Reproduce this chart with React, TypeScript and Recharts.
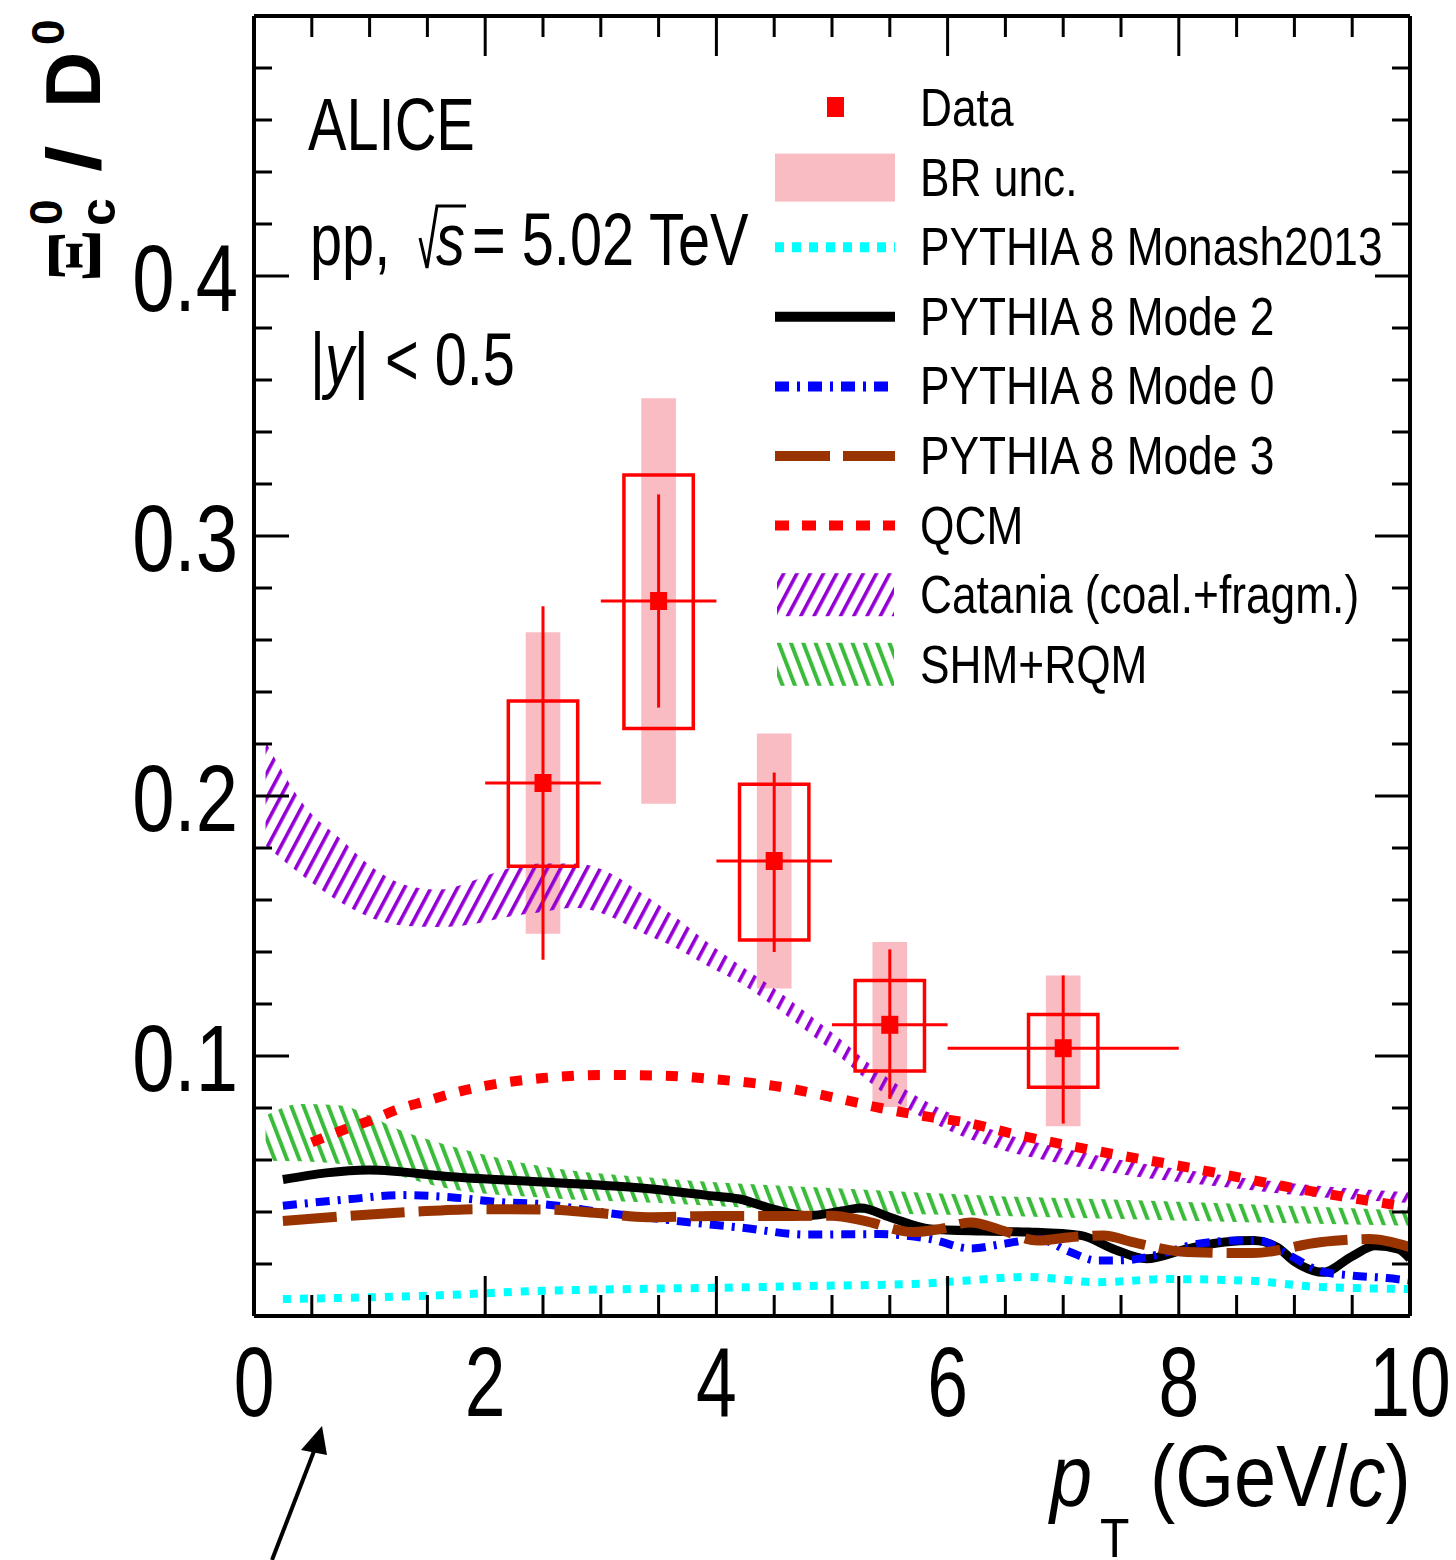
import React from 'react';
import {
  ComposedChart,
  XAxis,
  YAxis,
  Line,
  Area,
  Scatter,
  ErrorBar,
  ReferenceArea,
} from 'recharts';

const WIDTH = 1456;
const HEIGHT = 1560;
const SANS = "'Liberation Sans', Arial, Helvetica, sans-serif";
const SERIF = "'Liberation Serif', 'Times New Roman', serif";

const RED = '#ff0000';
const PINK = '#f9bcc3';
const CYAN = '#00ffff';
const BLUE = '#0000ff';
const BROWN = '#993300';
const VIOLET = '#9400d3';
const GREEN = '#3cba3c';

// measured Xi_c0 / D0 points (pT in GeV/c)
const ptCentre = [2.5, 3.5, 4.5, 5.5, 7];
const ptHalfWidth = [0.5, 0.5, 0.5, 0.5, 1];
const ratio = [0.205, 0.275, 0.175, 0.112, 0.103];
const statLow = [0.137, 0.234, 0.14, 0.0835, 0.074];
const statHigh = [0.273, 0.316, 0.209, 0.141, 0.131];
const systLow = [0.173, 0.226, 0.1446, 0.0942, 0.088];
const systHigh = [0.2365, 0.3235, 0.2045, 0.129, 0.116];
const brLow = [0.147, 0.197, 0.126, 0.0804, 0.073];
const brHigh = [0.263, 0.353, 0.224, 0.1438, 0.131];
const SYST_HALF = 0.3;
const BR_HALF = 0.15;

// PYTHIA 8 Monash2013
const monashX = [0.25, 1, 1.5, 2.5, 3.3, 4.2, 5, 5.7, 6.15, 6.7, 7.3, 7.9, 8.6, 9.2, 10];
const monashY = [0.0065, 0.0072, 0.0078, 0.0097, 0.0104, 0.011, 0.0117, 0.0123, 0.0136, 0.015, 0.013, 0.0142, 0.0136, 0.0112, 0.0104];

// PYTHIA 8 Mode 2
const mode2X = [0.25, 1, 1.7, 2.5, 3.35, 3.9, 4.2, 4.5, 4.8, 5.1, 5.25, 5.5, 5.85, 6.3, 6.7, 7.15, 7.45, 7.72, 8.07, 8.4, 8.65, 8.85, 9.0, 9.25, 9.5, 9.7, 9.9, 10];
const mode2Y = [0.0525, 0.0562, 0.0536, 0.0515, 0.0492, 0.0465, 0.045, 0.041, 0.0386, 0.0405, 0.0415, 0.038, 0.0335, 0.0327, 0.0323, 0.031, 0.0255, 0.022, 0.0258, 0.0285, 0.029, 0.0265, 0.021, 0.0168, 0.023, 0.027, 0.0257, 0.022];

// PYTHIA 8 Mode 0
const mode0X = [0.25, 0.84, 1.27, 1.7, 2.13, 2.5, 3.06, 3.63, 4.21, 4.79, 5.4, 5.85, 6.2, 6.48, 6.78, 7.06, 7.3, 7.55, 7.78, 8.16, 8.5, 8.7, 8.94, 9.22, 9.51, 9.8, 10];
const mode0Y = [0.0424, 0.045, 0.0465, 0.0457, 0.0438, 0.043, 0.0396, 0.0367, 0.034, 0.0313, 0.0315, 0.0296, 0.026, 0.0277, 0.0296, 0.0246, 0.0213, 0.0215, 0.0232, 0.0277, 0.029, 0.029, 0.0238, 0.0174, 0.0155, 0.0146, 0.0136];

// PYTHIA 8 Mode 3
const mode3X = [0.25, 0.84, 1.42, 2.0, 2.5, 3.0, 3.4, 4.0, 4.64, 5.0, 5.27, 5.7, 5.94, 6.2, 6.48, 6.78, 7.06, 7.35, 7.6, 8.07, 8.64, 9.22, 9.65, 10];
const mode3Y = [0.0365, 0.0386, 0.0402, 0.0411, 0.041, 0.0395, 0.038, 0.0385, 0.0385, 0.0386, 0.0367, 0.0323, 0.0335, 0.036, 0.0328, 0.029, 0.0303, 0.031, 0.0284, 0.0246, 0.0242, 0.0284, 0.0296, 0.0265];

// QCM
const qcmX = [0.5, 0.8, 1.0, 1.25, 1.5, 1.7, 2.0, 2.5, 3.0, 3.5, 4.0, 4.5, 5.0, 5.42, 5.85, 6.14, 6.57, 7.0, 7.5, 8.0, 8.44, 8.9, 9.37, 9.83, 10];
const qcmY = [0.0668, 0.072, 0.0751, 0.0796, 0.0828, 0.0854, 0.0885, 0.0915, 0.0927, 0.0925, 0.091, 0.0885, 0.0842, 0.08, 0.0765, 0.0746, 0.07, 0.066, 0.0617, 0.0578, 0.054, 0.05, 0.0463, 0.043, 0.0418];

// Catania (coal.+fragm.) band
const cataniaX = [0.1, 0.46, 0.75, 1.04, 1.33, 1.61, 1.9, 2.19, 2.48, 2.77, 3.06, 3.34, 3.63, 3.92, 4.21, 4.5, 5.0, 5.5, 6.0, 6.5, 7.0, 7.5, 8.0, 8.5, 9.0, 9.5, 10];
const cataniaHigh = [0.221, 0.195, 0.1835, 0.172, 0.1655, 0.164, 0.1675, 0.172, 0.174, 0.174, 0.1708, 0.163, 0.154, 0.1438, 0.1347, 0.126, 0.109, 0.091, 0.0785, 0.07, 0.0645, 0.06, 0.0565, 0.0535, 0.051, 0.049, 0.0475];
const cataniaLow = [0.181, 0.168, 0.159, 0.1527, 0.15, 0.1496, 0.1508, 0.1535, 0.1553, 0.157, 0.154, 0.1477, 0.142, 0.1347, 0.128, 0.119, 0.102, 0.084, 0.0715, 0.0635, 0.0585, 0.0545, 0.0515, 0.049, 0.0465, 0.0448, 0.0435];

// SHM+RQM band
const shmX = [0.1, 0.4, 0.75, 1.0, 1.2, 1.7, 2.5, 3.5, 5.0, 6.5, 7.5, 8.5, 10];
const shmHigh = [0.077, 0.0815, 0.081, 0.077, 0.0727, 0.0654, 0.0575, 0.053, 0.0492, 0.046, 0.0447, 0.0432, 0.0405];
const shmLow = [0.0597, 0.0595, 0.0585, 0.057, 0.0546, 0.0488, 0.0455, 0.0435, 0.04, 0.0385, 0.0373, 0.0362, 0.0347];

// axis ticks
const xTicks = [0, 0.5, 1, 1.5, 2, 2.5, 3, 3.5, 4, 4.5, 5, 5.5, 6, 6.5, 7, 7.5, 8, 8.5, 9, 9.5, 10];
const xMajor = [0, 2, 4, 6, 8, 10];
const yTicks = [0, 0.02, 0.04, 0.06, 0.08, 0.1, 0.12, 0.14, 0.16, 0.18, 0.2, 0.22, 0.24, 0.26, 0.28, 0.3, 0.32, 0.34, 0.36, 0.38, 0.4, 0.42, 0.44, 0.46, 0.48, 0.5];
const yMajor = [0, 0.1, 0.2, 0.3, 0.4, 0.5];
const yLabels = ['', '0.1', '0.2', '0.3', '0.4', ''];

const legendLabels = [
  'Data',
  'BR unc.',
  'PYTHIA 8 Monash2013',
  'PYTHIA 8 Mode 2',
  'PYTHIA 8 Mode 0',
  'PYTHIA 8 Mode 3',
  'QCM',
  'Catania (coal.+fragm.)',
  'SHM+RQM',
];

const toLine = (xs: number[], ys: number[]) => xs.map((x, i) => ({ x, y: ys[i] }));
const toBand = (xs: number[], lo: number[], hi: number[]) =>
  xs.map((x, i) => ({ x, band: [lo[i], hi[i]] }));

const monash = toLine(monashX, monashY);
const mode2 = toLine(mode2X, mode2Y);
const mode0 = toLine(mode0X, mode0Y);
const mode3 = toLine(mode3X, mode3Y);
const qcm = toLine(qcmX, qcmY);
const catania = toBand(cataniaX, cataniaLow, cataniaHigh);
const shm = toBand(shmX, shmLow, shmHigh);

const points = ptCentre.map((x, i) => ({
  x,
  y: ratio[i],
  ey: [ratio[i] - statLow[i], statHigh[i] - ratio[i]],
  ex: ptHalfWidth[i],
}));

const isMajorY = (v: number) => yMajor.some((m) => Math.abs(m - v) < 1e-9);

// tick marks point into the frame, like ROOT
const BottomTick = (props: any) => {
  const { x, y, payload } = props;
  const v = payload.value;
  const major = xMajor.includes(v);
  return (
    <g>
      <line x1={x} x2={x} y1={y} y2={y - (major ? 40 : 21)} stroke="#000" strokeWidth={3} />
      {major && (
        <text
          transform={`translate(${x},${y + 100}) scale(0.74,1)`}
          textAnchor="middle"
          fontFamily={SANS}
          fontSize={99}
          fill="#000"
        >
          {v}
        </text>
      )}
    </g>
  );
};

const TopTick = (props: any) => {
  const { x, y, payload } = props;
  const major = xMajor.includes(payload.value);
  return <line x1={x} x2={x} y1={y} y2={y + (major ? 40 : 21)} stroke="#000" strokeWidth={3} />;
};

const LeftTick = (props: any) => {
  const { x, y, payload } = props;
  const v = payload.value;
  const major = isMajorY(v);
  const label = major ? yLabels[yMajor.findIndex((m) => Math.abs(m - v) < 1e-9)] : '';
  return (
    <g>
      <line x1={x} x2={x + (major ? 35 : 18)} y1={y} y2={y} stroke="#000" strokeWidth={3} />
      {label && (
        <text
          transform={`translate(${x - 16},${y + 35}) scale(0.8,1)`}
          textAnchor="end"
          fontFamily={SANS}
          fontSize={95}
          fill="#000"
        >
          {label}
        </text>
      )}
    </g>
  );
};

const RightTick = (props: any) => {
  const { x, y, payload } = props;
  const major = isMajorY(payload.value);
  return <line x1={x} x2={x - (major ? 35 : 18)} y1={y} y2={y} stroke="#000" strokeWidth={3} />;
};

const DataSquare = (props: any) => {
  const { cx, cy } = props;
  return <rect x={cx - 8.5} y={cy - 9} width={17} height={18} fill={RED} />;
};

const Hatches = () => (
  <defs>
    <pattern id="hatchViolet" patternUnits="userSpaceOnUse" width={11.7} height={20} patternTransform="rotate(28)">
      <rect x={0} y={0} width={3.6} height={20} fill={VIOLET} />
    </pattern>
    <pattern id="hatchGreen" patternUnits="userSpaceOnUse" width={11.5} height={20} patternTransform="rotate(-21)">
      <rect x={0} y={0} width={4} height={20} fill={GREEN} />
    </pattern>
  </defs>
);

// legend block drawn in the upper right of the frame
const LegendBlock = () => {
  const x0 = 775;
  const x1 = 895;
  const textX = 920;
  const base = (i: number) => 126 + 69.6 * i;
  const mid = (i: number) => base(i) - 18;
  const lineProps = (i: number) => ({ x1: x0, x2: x1, y1: mid(i), y2: mid(i), strokeWidth: 10 });
  return (
    <g>
      <rect x={827} y={mid(0) - 11} width={17} height={20} fill={RED} />
      <rect x={x0} y={mid(1) - 24} width={x1 - x0} height={48} fill={PINK} />
      <line {...lineProps(2)} stroke={CYAN} strokeDasharray="9 8" />
      <line {...lineProps(3)} stroke="#000" />
      <line {...lineProps(4)} stroke={BLUE} strokeDasharray="14 8 3 8" />
      <line {...lineProps(5)} stroke={BROWN} strokeDasharray="55 13" />
      <line {...lineProps(6)} stroke={RED} strokeDasharray="14 13" />
      <rect x={777} y={mid(7) - 22} width={117} height={43} fill="url(#hatchViolet)" />
      <rect x={777} y={mid(8) - 22} width={117} height={43} fill="url(#hatchGreen)" />
      {legendLabels.map((label, i) => (
        <text
          key={label}
          transform={`translate(${textX},${base(i)}) scale(0.82,1)`}
          fontFamily={SANS}
          fontSize={54}
          fill="#000"
        >
          {label}
        </text>
      ))}
    </g>
  );
};

const Annotations = () => (
  <svg
    width={WIDTH}
    height={HEIGHT}
    style={{ position: 'absolute', left: 0, top: 0, pointerEvents: 'none' }}
  >
    {/* collaboration / system labels */}
    <text transform="translate(308,150) scale(0.78,1)" fontFamily={SANS} fontSize={74} fill="#000">
      ALICE
    </text>
    <text transform="translate(310,265) scale(0.78,1)" fontFamily={SANS} fontSize={74} fill="#000">
      pp,
    </text>
    <path d="M420,238 L427,268 L437,206 L466,206" fill="none" stroke="#000" strokeWidth={3} />
    <text transform="translate(436,265) scale(0.78,1)" fontFamily={SANS} fontSize={74} fontStyle="italic" fill="#000">
      s
    </text>
    <text transform="translate(472,265) scale(0.78,1)" fontFamily={SANS} fontSize={74} fill="#000">
      = 5.02 TeV
    </text>
    <text transform="translate(310,385) scale(0.78,1)" fontFamily={SANS} fontSize={74} fill="#000">
      |<tspan fontStyle="italic">y</tspan>| {'<'} 0.5
    </text>

    <LegendBlock />

    {/* y-axis title: Xi_c^0 / D^0 */}
    <g transform="translate(100,282) rotate(-90)" fill="#000">
      <text x={0} y={0} fontFamily={SERIF} fontWeight="bold" fontSize={78}>
        Ξ
      </text>
      <text x={57} y={-38} fontFamily={SANS} fontWeight="bold" fontSize={46}>
        0
      </text>
      <text x={56} y={15} fontFamily={SANS} fontWeight="bold" fontSize={50}>
        c
      </text>
      <text transform="translate(110,0) scale(1.25,1)" fontFamily={SANS} fontWeight="bold" fontSize={76}>
        /
      </text>
      <text x={174} y={0} fontFamily={SANS} fontWeight="bold" fontSize={78}>
        D
      </text>
      <text x={237} y={-36} fontFamily={SANS} fontWeight="bold" fontSize={46}>
        0
      </text>
    </g>

    {/* x-axis title: p_T (GeV/c) */}
    <text transform="translate(1050,1506) scale(0.86,1)" fontFamily={SANS} fontSize={88} fontStyle="italic" fill="#000">
      p
    </text>
    <text transform="translate(1100,1557) scale(0.86,1)" fontFamily={SANS} fontSize={56} fill="#000">
      T
    </text>
    <text transform="translate(1150,1506) scale(0.86,1)" fontFamily={SANS} fontSize={88} fill="#000">
      (GeV/<tspan fontStyle="italic">c</tspan>)
    </text>

    {/* pointer arrow below the axis */}
    <line x1={272} y1={1560} x2={316} y2={1446} stroke="#000" strokeWidth={4} />
    <polygon points="322,1426 301,1450 327,1455" fill="#000" />
  </svg>
);

export default function App() {
  return (
    <div style={{ position: 'absolute', left: 0, top: 0, width: WIDTH, height: HEIGHT, background: '#fff' }}>
      <ComposedChart width={WIDTH} height={HEIGHT} margin={{ top: 0, right: 0, bottom: 0, left: 0 }}>
        <Hatches />
        <XAxis
          dataKey="x"
          type="number"
          domain={[0, 10]}
          ticks={xTicks}
          interval={0}
          allowDataOverflow
          height={244}
          tickSize={0}
          tickMargin={0}
          tickLine={false}
          axisLine={{ stroke: '#000', strokeWidth: 4 }}
          tick={BottomTick}
        />
        <XAxis
          xAxisId="top"
          orientation="top"
          dataKey="x"
          type="number"
          domain={[0, 10]}
          ticks={xTicks}
          interval={0}
          allowDataOverflow
          height={16}
          tickSize={0}
          tickMargin={0}
          tickLine={false}
          axisLine={{ stroke: '#000', strokeWidth: 4 }}
          tick={TopTick}
        />
        <YAxis
          type="number"
          domain={[0, 0.5]}
          ticks={yTicks}
          interval={0}
          allowDataOverflow
          width={254}
          tickSize={0}
          tickMargin={0}
          tickLine={false}
          axisLine={{ stroke: '#000', strokeWidth: 4 }}
          tick={LeftTick}
        />
        <YAxis
          yAxisId="right"
          orientation="right"
          type="number"
          domain={[0, 0.5]}
          ticks={yTicks}
          interval={0}
          allowDataOverflow
          width={46}
          tickSize={0}
          tickMargin={0}
          tickLine={false}
          axisLine={{ stroke: '#000', strokeWidth: 4 }}
          tick={RightTick}
        />

        {ptCentre.map((x, i) => (
          <ReferenceArea
            key={`br-${i}`}
            x1={x - BR_HALF}
            x2={x + BR_HALF}
            y1={brLow[i]}
            y2={brHigh[i]}
            fill={PINK}
            fillOpacity={1}
            stroke="none"
          />
        ))}

        <Line data={mode2} dataKey="y" type="monotone" stroke="#000" strokeWidth={9} dot={false} isAnimationActive={false} />
        <Line data={mode0} dataKey="y" type="monotone" stroke={BLUE} strokeWidth={8} strokeDasharray="14 8 3 8" dot={false} isAnimationActive={false} />
        <Line data={mode3} dataKey="y" type="monotone" stroke={BROWN} strokeWidth={10} strokeDasharray="54 14" dot={false} isAnimationActive={false} />
        <Line data={monash} dataKey="y" type="monotone" stroke={CYAN} strokeWidth={8} strokeDasharray="8 9" dot={false} isAnimationActive={false} />
        <Area data={shm} dataKey="band" type="monotone" stroke="none" fill="url(#hatchGreen)" fillOpacity={1} isAnimationActive={false} />
        <Area data={catania} dataKey="band" type="monotone" stroke="none" fill="url(#hatchViolet)" fillOpacity={1} isAnimationActive={false} />
        <Line data={qcm} dataKey="y" type="monotone" stroke={RED} strokeWidth={10} strokeDasharray="12 14" dot={false} isAnimationActive={false} />

        {ptCentre.map((x, i) => (
          <ReferenceArea
            key={`syst-${i}`}
            x1={x - SYST_HALF}
            x2={x + SYST_HALF}
            y1={systLow[i]}
            y2={systHigh[i]}
            fill="none"
            stroke={RED}
            strokeWidth={3.5}
          />
        ))}

        <Scatter data={points} dataKey="y" shape={DataSquare} isAnimationActive={false}>
          <ErrorBar dataKey="ey" direction="y" width={0} stroke={RED} strokeWidth={3} />
          <ErrorBar dataKey="ex" direction="x" width={0} stroke={RED} strokeWidth={3} />
        </Scatter>
      </ComposedChart>
      <Annotations />
    </div>
  );
}
